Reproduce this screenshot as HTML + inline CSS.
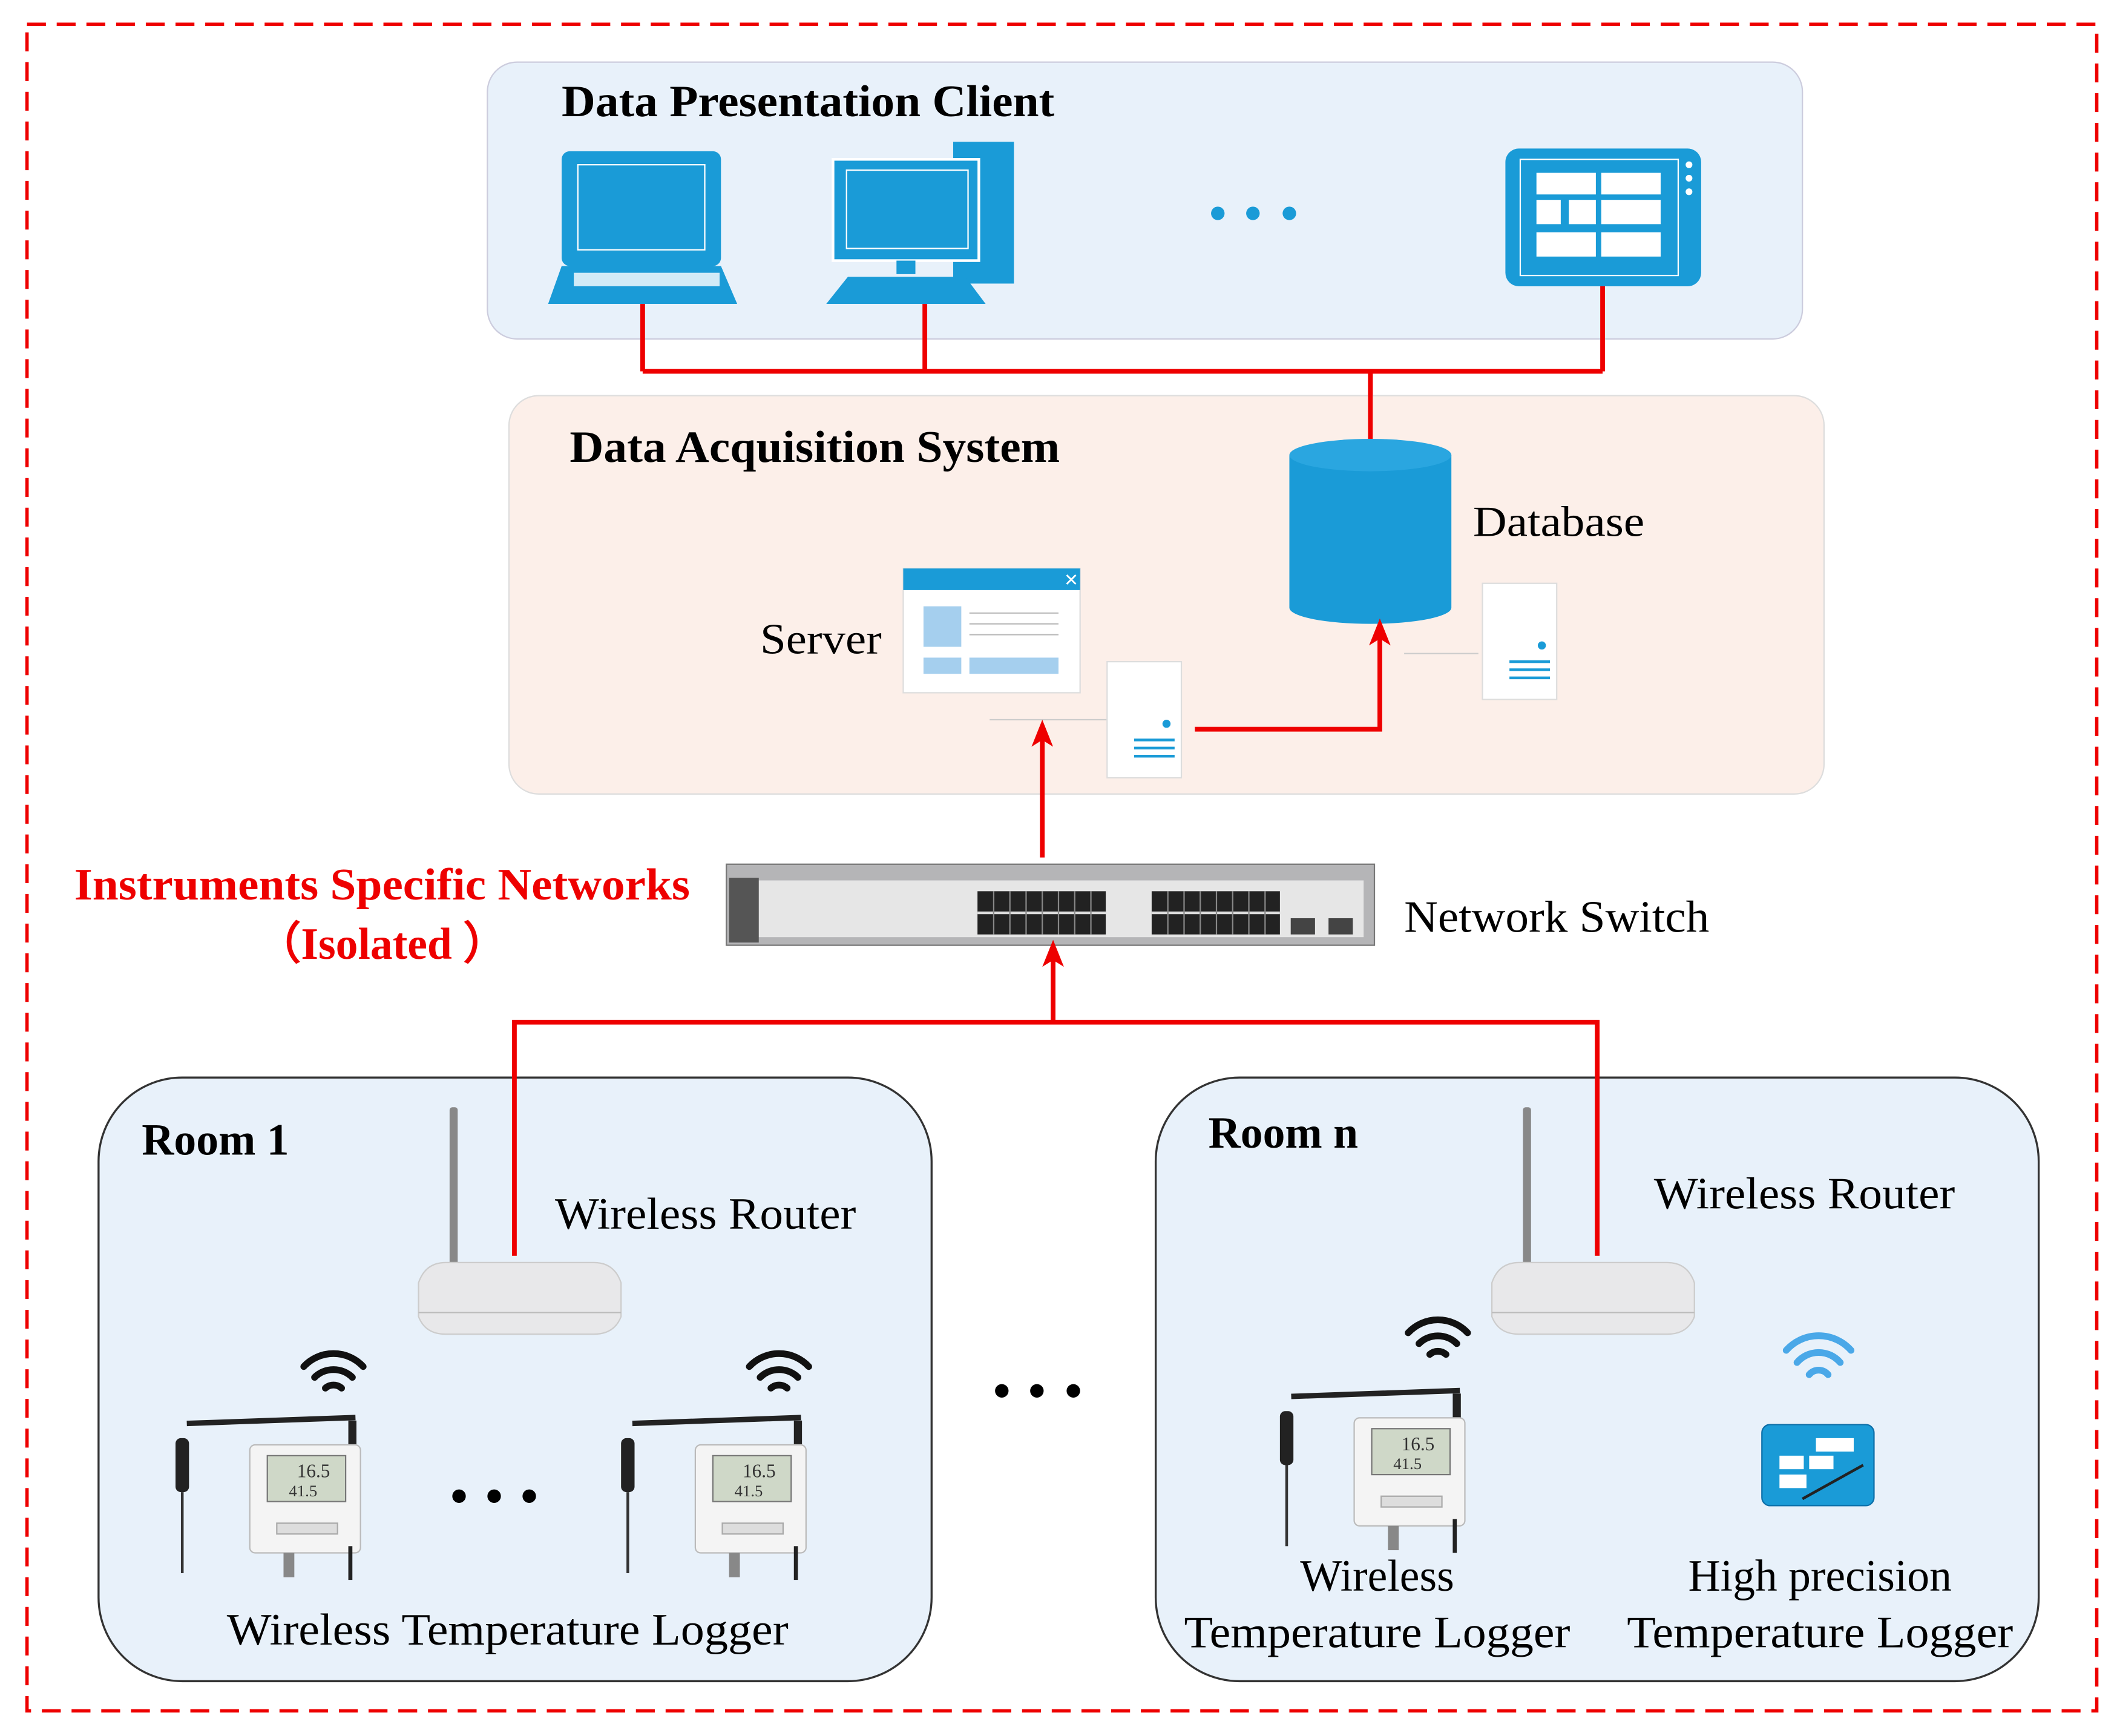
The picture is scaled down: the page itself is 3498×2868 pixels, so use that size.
<!DOCTYPE html>
<html><head><meta charset="utf-8"><style>
html,body{margin:0;padding:0;background:#fff}
svg{display:block}
text{font-family:"Liberation Serif",serif}
</style></head><body>
<svg width="3498" height="2868" viewBox="0 0 1568 1285.6" xmlns="http://www.w3.org/2000/svg">
<defs>
<marker id="ar" markerWidth="20" markerHeight="20" refX="8" refY="10" orient="auto" markerUnits="userSpaceOnUse" viewBox="0 0 20 20"><path d="M0,2 L20,10 L0,18 L5,10 Z" fill="#e00"/></marker>
<g id="logger">
<rect x="-60" y="-50" width="125" height="4" fill="#222" transform="rotate(-2)"/>
<rect x="58" y="-48" width="6" height="20" fill="#222"/>
<rect x="-70" y="-35" width="10" height="40" rx="4" fill="#222"/><rect x="-66" y="5" width="2" height="60" fill="#333"/>
<rect x="-15" y="-30" width="82" height="80" rx="4" fill="#f4f4f4" stroke="#bbb"/>
<rect x="-2" y="-22" width="58" height="34" fill="#cfd8c8" stroke="#777"/>
<text x="20" y="-6" font-size="14" fill="#333">16.5</text><text x="14" y="8" font-size="12" fill="#333">41.5</text>
<rect x="5" y="28" width="45" height="8" fill="#ddd" stroke="#aaa"/>
<rect x="10" y="50" width="8" height="18" fill="#888"/><rect x="58" y="45" width="3" height="25" fill="#222"/>
</g>
<g id="wifi" fill="none" stroke="#111" stroke-width="5" stroke-linecap="round">
<path d="M-22,-8 A30,30 0 0 1 22,-8"/><path d="M-14,0 A20,20 0 0 1 14,0"/><path d="M-6,8 A9,9 0 0 1 6,8"/></g>
<g id="router">
<rect x="-2" y="-120" width="6" height="125" rx="2" fill="#888"/>
<path d="M-25,10 Q-20,-5 -5,-5 L105,-5 Q120,-5 125,10 L125,35 Q120,48 105,48 L-5,48 Q-20,48 -25,35 Z" fill="#e8e8ea" stroke="#ccc"/>
<path d="M-25,32 L125,32" stroke="#bbb"/>
</g>
<g id="srv"><rect x="0" y="0" width="55" height="86" fill="#fff" stroke="#ddd"/><circle cx="44" cy="46" r="3" fill="#1a9bd7"/>
<path d="M20,58h30M20,64h30M20,70h30" stroke="#1a9bd7" stroke-width="2"/></g>
</defs>
<rect x="20" y="18" width="1533" height="1249" fill="none" stroke="#e00" stroke-width="2.5" stroke-dasharray="14,8"/>
<!-- top panel -->
<rect x="361" y="46" width="974" height="205" rx="22" fill="#e8f1fa" stroke="#ccd"/>
<text x="416" y="86" font-size="33" font-weight="bold" textLength="365" lengthAdjust="spacingAndGlyphs">Data Presentation Client</text>
<rect x="416" y="112" width="118" height="85" rx="6" fill="#1a9bd7"/><rect x="428" y="122" width="94" height="63" fill="none" stroke="#fff"/>
<path d="M416,197 L534,197 L546,225 L406,225 Z" fill="#1a9bd7"/><rect x="425" y="202" width="108" height="10" fill="#fff" opacity=".8"/>
<rect x="706" y="105" width="45" height="105" fill="#1a9bd7"/><rect x="617" y="118" width="108" height="75" fill="#1a9bd7" stroke="#fff" stroke-width="2"/>
<rect x="627" y="126" width="90" height="58" fill="none" stroke="#fff"/><rect x="664" y="193" width="14" height="10" fill="#1a9bd7"/>
<path d="M628,205 L715,205 L730,225 L612,225 Z" fill="#1a9bd7"/>
<circle cx="902" cy="158" r="5" fill="#1a9bd7"/><circle cx="928" cy="158" r="5" fill="#1a9bd7"/><circle cx="955" cy="158" r="5" fill="#1a9bd7"/>
<rect x="1115" y="110" width="145" height="102" rx="10" fill="#1a9bd7"/><rect x="1126" y="118" width="117" height="86" fill="none" stroke="#fff"/>
<g fill="#fff"><rect x="1138" y="128" width="44" height="16"/><rect x="1186" y="128" width="44" height="16"/><rect x="1138" y="148" width="18" height="18"/><rect x="1162" y="148" width="20" height="18"/><rect x="1186" y="148" width="44" height="18"/><rect x="1138" y="172" width="44" height="18"/><rect x="1186" y="172" width="44" height="18"/>
<circle cx="1251" cy="122" r="2.5"/><circle cx="1251" cy="132" r="2.5"/><circle cx="1251" cy="142" r="2.5"/></g>
<path d="M476,225 V275 M685,225 V275 M1187,212 V275 M476,275 H1187 M1015,275 V325" stroke="#e00" stroke-width="3.5" fill="none"/>
<!-- middle -->
<rect x="377" y="293" width="974" height="295" rx="22" fill="#fcefe9" stroke="#ddd"/>
<text x="422" y="342" font-size="33" font-weight="bold" textLength="363" lengthAdjust="spacingAndGlyphs">Data Acquisition System</text>
<path d="M955,337 V450 A60,12 0 0 0 1075,450 V337" fill="#1a9bd7"/><ellipse cx="1015" cy="337" rx="60" ry="12" fill="#2aa6e0"/>
<path d="M1015,275 V325" stroke="#e00" stroke-width="3.5"/>
<text x="1091" y="397" font-size="32" textLength="127" lengthAdjust="spacingAndGlyphs">Database</text>
<text x="563" y="484" font-size="32" textLength="90" lengthAdjust="spacingAndGlyphs">Server</text>
<rect x="669" y="421" width="131" height="92" fill="#fff" stroke="#ddd"/><rect x="669" y="421" width="131" height="16" fill="#1a9bd7"/>
<text x="788" y="434" font-size="13" fill="#fff">✕</text>
<rect x="684" y="449" width="28" height="30" fill="#a5cfee"/><path d="M718,454h66M718,462h66M718,470h66" stroke="#bbb"/>
<rect x="684" y="487" width="28" height="12" fill="#a5cfee"/><rect x="718" y="487" width="66" height="12" fill="#a5cfee"/>
<path d="M733,533 H820 M1040,484 H1095" stroke="#ccc"/>
<use href="#srv" x="820" y="490"/><use href="#srv" x="1098" y="432" />
<path d="M885,540 H1022 V470" stroke="#e00" stroke-width="3.5" fill="none" marker-end="url(#ar)"/>
<path d="M772,635 V545" stroke="#e00" stroke-width="3.5" marker-end="url(#ar)"/>
<!-- switch -->
<rect x="538" y="640" width="480" height="60" fill="#b5b5b7" stroke="#777"/><rect x="560" y="652" width="450" height="42" fill="#e6e6e6"/>
<rect x="540" y="650" width="22" height="48" fill="#555"/>
<rect x="724" y="660" width="95" height="32" fill="#222"/><rect x="853" y="660" width="95" height="32" fill="#222"/>
<path d="M724,676h95M853,676h95" stroke="#ddd" stroke-width="2"/>
<path d="M736,660v32M748,660v32M760,660v32M772,660v32M784,660v32M796,660v32M808,660v32M865,660v32M877,660v32M889,660v32M901,660v32M913,660v32M925,660v32M937,660v32" stroke="#888" stroke-width="1"/>
<rect x="956" y="680" width="18" height="12" fill="#444"/><rect x="984" y="680" width="18" height="12" fill="#444"/>
<text x="1040" y="690" font-size="33" textLength="226" lengthAdjust="spacingAndGlyphs">Network Switch</text>
<text x="55" y="666" font-size="33" font-weight="bold" fill="#e00" textLength="456" lengthAdjust="spacingAndGlyphs">Instruments Specific Networks</text>
<text x="283" y="710" font-size="33" font-weight="bold" fill="#e00" text-anchor="middle" font-family="Liberation Serif, Noto Serif CJK SC, serif">（Isolated ）</text>
<!-- rooms -->
<rect x="73" y="798" width="617" height="447" rx="62" fill="#e8f1fa" stroke="#333" stroke-width="1.5"/>
<rect x="856" y="798" width="654" height="447" rx="62" fill="#e8f1fa" stroke="#333" stroke-width="1.5"/>
<text x="105" y="855" font-size="33" font-weight="bold">Room 1</text>
<text x="895" y="850" font-size="33" font-weight="bold">Room n</text>
<use href="#router" x="335" y="940"/><use href="#router" x="1130" y="940"/>
<path d="M780,757 V708" stroke="#e00" stroke-width="3.5" marker-end="url(#ar)"/>
<path d="M381,930 V757 H1183 V930" stroke="#e00" stroke-width="3.5" fill="none"/>
<text x="411" y="910" font-size="33" textLength="223" lengthAdjust="spacingAndGlyphs">Wireless Router</text>
<text x="1225" y="895" font-size="33" textLength="223" lengthAdjust="spacingAndGlyphs">Wireless Router</text>
<use href="#wifi" x="247" y="1020"/><use href="#wifi" x="577" y="1020"/><use href="#wifi" x="1065" y="995"/>
<g fill="none" stroke="#4aa8e8" stroke-width="5" stroke-linecap="round"><path d="M1323,1000 A32,32 0 0 1 1371,1000"/><path d="M1331,1009 A21,21 0 0 1 1363,1009"/><path d="M1340,1018 A9,9 0 0 1 1354,1018"/></g>
<use href="#logger" x="200" y="1100"/><use href="#logger" x="530" y="1100"/><use href="#logger" x="1018" y="1080"/>
<circle cx="340" cy="1108" r="5"/><circle cx="366" cy="1108" r="5"/><circle cx="392" cy="1108" r="5"/>
<circle cx="742" cy="1030" r="5"/><circle cx="768" cy="1030" r="5"/><circle cx="795" cy="1030" r="5"/>
<rect x="1305" y="1055" width="83" height="60" rx="6" fill="#1a9bd7" stroke="#0d6fa8"/>
<g fill="#fff"><rect x="1318" y="1078" width="18" height="10"/><rect x="1340" y="1078" width="18" height="10"/><rect x="1345" y="1065" width="28" height="10"/><rect x="1318" y="1092" width="20" height="10"/></g>
<path d="M1335,1110 L1380,1085" stroke="#222" stroke-width="2"/>
<text x="168" y="1218" font-size="33" textLength="416" lengthAdjust="spacingAndGlyphs">Wireless Temperature Logger</text>
<text x="1020" y="1178" font-size="33" text-anchor="middle">Wireless</text>
<text x="877" y="1220" font-size="33" textLength="286" lengthAdjust="spacingAndGlyphs">Temperature Logger</text>
<text x="1348" y="1178" font-size="33" text-anchor="middle">High precision</text>
<text x="1205" y="1220" font-size="33" textLength="286" lengthAdjust="spacingAndGlyphs">Temperature Logger</text>
</svg>
</body></html>
